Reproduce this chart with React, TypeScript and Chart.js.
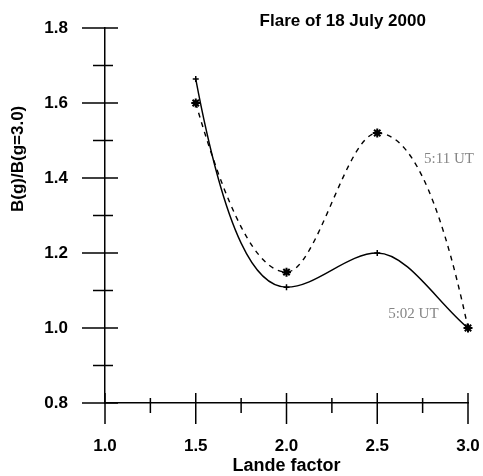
import React, { useEffect, useRef } from "react";
import { Chart, registerables } from "chart.js";

Chart.register(...registerables);

// ---- data ----
const landeFactors = [1.5, 2.0, 2.5, 3.0];
const ratio0502 = [1.664, 1.109, 1.2, 1.0];
const ratio0511 = [1.6, 1.149, 1.52, 1.0];
const seriesNames = ["5:02 UT", "5:11 UT"];
const xMajorTicks = [1.0, 1.5, 2.0, 2.5, 3.0];
const yMajorTicks = [0.8, 1.0, 1.2, 1.4, 1.6, 1.8];
const chartTitle = "Flare of 18 July 2000";
const xTitle = "Lande factor";
const yTitle = "B(g)/B(g=3.0)";

// curve styling: how strongly the end segments bend (fraction of the segment's drop)
const curveBend: { start: number | null; end: number | null }[] = [
  { start: 0.77, end: null },
  { start: 0.62, end: 0.73 },
];

// annotation anchors (data coordinates of the label's left/middle)
const seriesLabelAnchors = [
  { x: 2.56, y: 1.037 },
  { x: 2.758, y: 1.451 },
];

const SANS = '"Liberation Sans", Arial, sans-serif';
const SERIF = '"Liberation Serif", "Times New Roman", serif';

const isMajor = (v: number, majors: number[]) =>
  majors.some((m) => Math.abs(m - v) < 1e-6);

const bendPlugin = {
  id: "bend",
  beforeDatasetDraw(chart: any, args: any) {
    const meta = args.meta;
    const line = meta.dataset;
    const bend = curveBend[args.index];
    if (!line || !bend) return;
    if (typeof line.updateControlPoints === "function") {
      line.updateControlPoints(chart.chartArea, "x");
    }
    const pts = line.points;
    if (!pts || pts.length < 2) return;
    if (bend.start != null) {
      const p0 = pts[0];
      const p1 = pts[1];
      p0.cp2y = p0.y + bend.start * (p1.y - p0.y);
    }
    if (bend.end != null) {
      const pl = pts[pts.length - 1];
      const pp = pts[pts.length - 2];
      pl.cp1y = pl.y + bend.end * (pp.y - pl.y);
    }
    line._path = undefined;
  },
};

const decorPlugin = {
  id: "decor",
  afterDraw(chart: any) {
    const ctx = chart.ctx as CanvasRenderingContext2D;
    const xs = chart.scales.x;
    const ys = chart.scales.y;
    const area = chart.chartArea;
    ctx.save();
    ctx.strokeStyle = "#000";
    ctx.lineWidth = 1.5;
    // y ticks
    ys.ticks.forEach((t: any) => {
      const py = ys.getPixelForValue(t.value);
      const major = isMajor(t.value, yMajorTicks);
      const l = major ? 23 : 12;
      const r = major ? 13 : 8;
      ctx.beginPath();
      ctx.moveTo(area.left - l, py);
      ctx.lineTo(area.left + r, py);
      ctx.stroke();
    });
    // x ticks
    xs.ticks.forEach((t: any) => {
      const px = xs.getPixelForValue(t.value);
      const major = isMajor(t.value, xMajorTicks);
      const up = major ? 10 : 5;
      const down = major ? 21 : 10;
      ctx.beginPath();
      ctx.moveTo(px, area.bottom - up);
      ctx.lineTo(px, area.bottom + down);
      ctx.stroke();
    });
    // main title
    ctx.fillStyle = "#000";
    ctx.font = `bold 17px ${SANS}`;
    ctx.textAlign = "center";
    ctx.textBaseline = "middle";
    ctx.fillText(chartTitle, xs.getPixelForValue(2.31), area.top - 7);
    // y title
    ctx.save();
    ctx.translate(18, ys.getPixelForValue(1.451));
    ctx.rotate(-Math.PI / 2);
    ctx.fillText(yTitle, 0, 0);
    ctx.restore();
    // series labels
    ctx.font = `15px ${SERIF}`;
    ctx.fillStyle = "#858585";
    ctx.textAlign = "left";
    seriesNames.forEach((name, i) => {
      const a = seriesLabelAnchors[i];
      ctx.fillText(name, xs.getPixelForValue(a.x), ys.getPixelForValue(a.y));
    });
    ctx.restore();
  },
};

export default function App() {
  const canvasRef = useRef<HTMLCanvasElement | null>(null);

  useEffect(() => {
    document.body.style.margin = "0";
    const canvas = canvasRef.current;
    if (!canvas) return;
    const chart = new Chart(canvas, {
      type: "line",
      data: {
        datasets: [
          {
            label: seriesNames[0],
            data: landeFactors.map((x, i) => ({ x, y: ratio0502[i] })),
            borderColor: "#000",
            backgroundColor: "#000",
            borderWidth: 1.4,
            cubicInterpolationMode: "monotone",
            pointStyle: "cross",
            pointRadius: 3,
            pointBorderWidth: 1.5,
            pointBorderColor: "#000",
            clip: false,
          } as any,
          {
            label: seriesNames[1],
            data: landeFactors.map((x, i) => ({ x, y: ratio0511[i] })),
            borderColor: "#000",
            backgroundColor: "#000",
            borderWidth: 1.4,
            borderDash: [5, 5],
            cubicInterpolationMode: "monotone",
            pointStyle: "star",
            pointRadius: 4.5,
            pointBorderWidth: 2,
            pointBorderColor: "#000",
            clip: false,
          } as any,
        ],
      },
      options: {
        responsive: false,
        animation: false,
        layout: { padding: { top: 28, right: 15, left: 0, bottom: 0 } },
        plugins: {
          legend: { display: false },
          title: { display: false },
          tooltip: { enabled: false },
        },
        scales: {
          x: {
            type: "linear",
            min: 1.0,
            max: 3.0,
            afterFit: (s: any) => {
              s.height = 73;
              s.paddingLeft = 0;
              s.paddingRight = 0;
              s.paddingTop = 0;
              s.paddingBottom = 0;
            },
            border: { display: true, color: "#000", width: 1.5 },
            grid: { display: true, drawOnChartArea: false, drawTicks: false },
            ticks: {
              stepSize: 0.25,
              autoSkip: false,
              maxRotation: 0,
              padding: 33,
              color: "#000",
              font: { family: SANS, size: 17, weight: "bold" },
              callback: (v: any) => (isMajor(Number(v), xMajorTicks) ? Number(v).toFixed(1) : ""),
            },
            title: {
              display: true,
              text: xTitle,
              color: "#000",
              font: { family: SANS, size: 18, weight: "bold", lineHeight: 1 },
              padding: { top: 0, bottom: 1 },
            },
          },
          y: {
            type: "linear",
            min: 0.8,
            max: 1.8,
            afterFit: (s: any) => {
              s.width = 105;
              s.paddingLeft = 0;
              s.paddingRight = 0;
              s.paddingTop = 0;
              s.paddingBottom = 0;
            },
            border: { display: true, color: "#000", width: 1.5 },
            grid: { display: true, drawOnChartArea: false, drawTicks: false },
            ticks: {
              stepSize: 0.1,
              autoSkip: false,
              padding: 37,
              color: "#000",
              font: { family: SANS, size: 17, weight: "bold" },
              callback: (v: any) => (isMajor(Number(v), yMajorTicks) ? Number(v).toFixed(1) : ""),
            },
          },
        },
      } as any,
      plugins: [bendPlugin, decorPlugin],
    });
    return () => chart.destroy();
  }, []);

  return (
    <div style={{ position: "absolute", left: 0, top: 0, width: 483, height: 476 }}>
      <canvas ref={canvasRef} width={483} height={476} />
    </div>
  );
}
